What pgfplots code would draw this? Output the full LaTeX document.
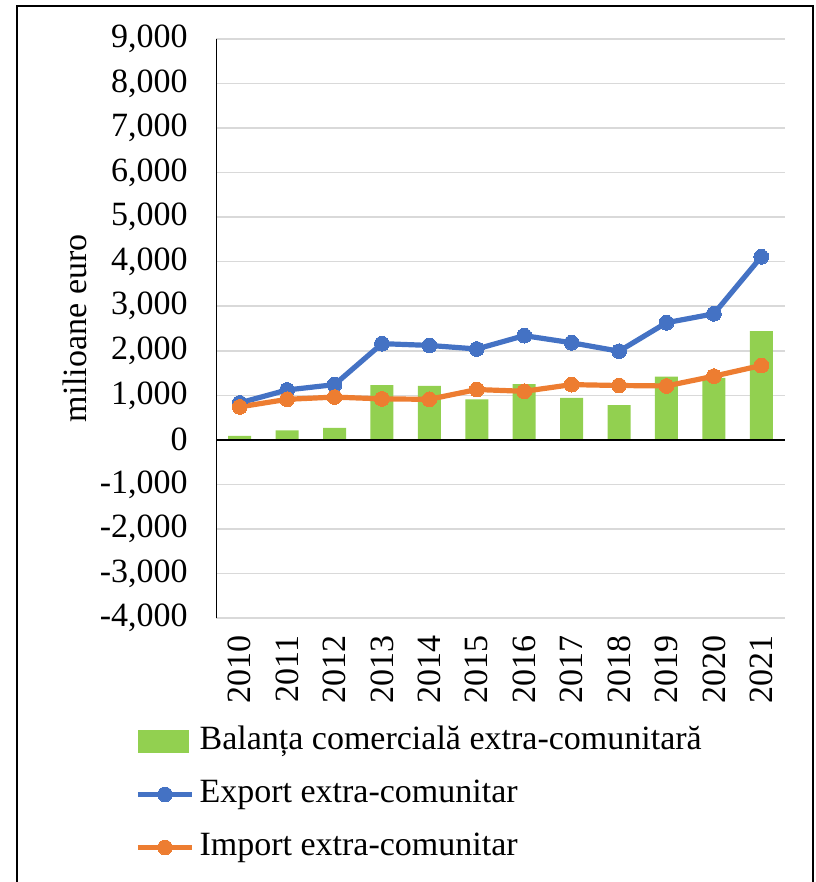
\documentclass[border=0pt]{standalone}
\usepackage{pgfplots}
\pgfplotsset{compat=1.18}
\usepackage{fontspec}
\setmainfont{Liberation Serif}
\definecolor{cgreen}{HTML}{92D050}
\definecolor{cblue}{HTML}{4472C4}
\definecolor{corange}{HTML}{ED7D31}
\definecolor{cgrid}{HTML}{D9D9D9}
\pgfplotsset{
  linelegend/.style={legend image code/.code={\draw[mark repeat=2,mark phase=2,##1] plot coordinates {(0pt,0pt) (13.5pt,0pt) (27pt,0pt)};}},
  barlegend/.style={legend image code/.code={\fill[cgreen] (0pt,-5.75pt) rectangle (25.5pt,5.75pt);}},
}
\begin{document}
\begin{tikzpicture}
\begin{axis}[
  at={(0pt,0pt)}, anchor=south west,
  scale only axis,
  width=284.5pt, height=289.5pt,
  xmin=-0.5, xmax=11.5,
  ymin=-4000, ymax=9000,
  ytick={-4000,-3000,...,9000},
  xtick={0,...,11},
  xticklabels={2010,2011,2012,2013,2014,2015,2016,2017,2018,2019,2020,2021},
  axis line style={draw=none},
  major tick length=0pt,
  ymajorgrids,
  grid style={cgrid, line width=0.75pt},
  /pgf/number format/assume math mode=true,
  /pgf/number format/1000 sep={,},
  tick label style={font=\fontsize{17}{20}\selectfont},
  xticklabel style={rotate=90, anchor=east, inner sep=0pt},
  xticklabel shift=8.5pt,
  yticklabel style={anchor=east, inner sep=0pt},
  yticklabel shift=14pt,
  ylabel={milioane euro},
  ylabel style={font=\fontsize{17}{20}\selectfont, at={(axis description cs:-0.2478,0.5)}, anchor=center, inner sep=0pt},
  legend cell align=left,
  legend style={draw=none, fill=none, inner sep=0pt, font=\fontsize{17}{20}\selectfont,
    at={(axis description cs:-0.1424,-0.1848)}, anchor=north west,
    row sep=10.5pt, column sep=2.5pt,
    nodes={inner sep=0pt, text height=12pt, text depth=4pt}},
]
\addplot[ybar, bar width=11.5pt, fill=cgreen, draw=none, barlegend]
  coordinates {(0,90) (1,210) (2,270) (3,1230) (4,1210) (5,910) (6,1250) (7,940) (8,780) (9,1420) (10,1390) (11,2440)};
\addlegendentry{Balanța comercială extra-comunitară}
\addplot[cblue, line width=2.6pt, mark=*, mark size=3.7pt, mark options={fill=cblue, draw=cblue, line width=0pt}, linelegend]
  coordinates {(0,830) (1,1120) (2,1240) (3,2160) (4,2120) (5,2040) (6,2340) (7,2180) (8,1990) (9,2630) (10,2830) (11,4110)};
\addlegendentry{Export extra-comunitar}
\addplot[corange, line width=2.6pt, mark=*, mark size=3.7pt, mark options={fill=corange, draw=corange, line width=0pt}, linelegend]
  coordinates {(0,740) (1,910) (2,960) (3,920) (4,910) (5,1130) (6,1090) (7,1240) (8,1220) (9,1210) (10,1430) (11,1670)};
\addlegendentry{Import extra-comunitar}
\draw[black, line width=1pt] (rel axis cs:0,0) -- (rel axis cs:0,1);
\draw[black, line width=1pt] (axis cs:-0.5,0) -- (axis cs:11.5,0);
\end{axis}
\draw[black, line width=1pt] (-99.5pt,-140pt) -- (-99.5pt,306pt) -- (298.5pt,306pt) -- (298.5pt,-140pt);
\pgfresetboundingbox
\useasboundingbox (-108pt,-132pt) rectangle (299.5pt,309pt);
\end{tikzpicture}
\end{document}
